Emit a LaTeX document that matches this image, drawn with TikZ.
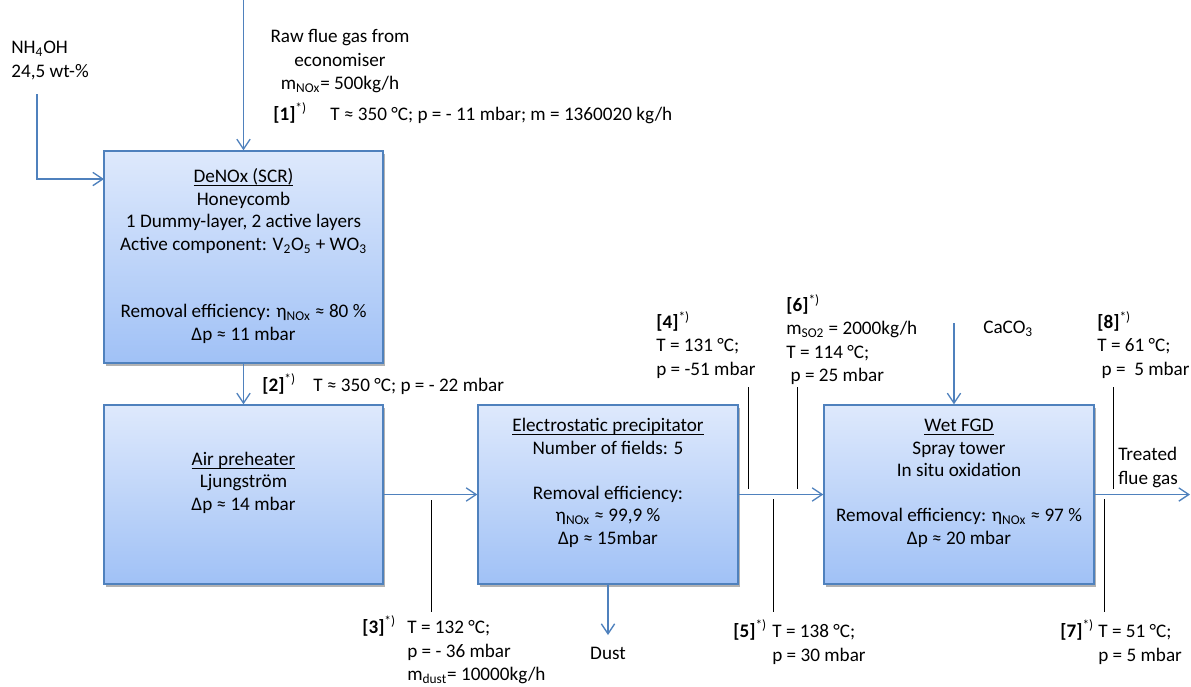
\documentclass[tikz,border=0pt]{standalone}
\usepackage{fontspec}
\setmainfont{Carlito}
\usetikzlibrary{arrows.meta,shadows,calc}
\definecolor{boxtop}{RGB}{222,233,252}
\definecolor{boxbot}{RGB}{160,193,246}
\definecolor{flow}{RGB}{79,129,189}
\newcommand{\tag}[1]{\textbf{[#1]}\textsuperscript{*)}}
\newsavebox\ulbox
\newcommand{\myul}[1]{\sbox\ulbox{#1}\rlap{\rule[-2.1pt]{\wd\ulbox}{0.75pt}}\usebox\ulbox}
\begin{document}
\begin{tikzpicture}[x=0.6pt,y=-0.6pt, font=\fontsize{11.5}{14}\selectfont,
  unit/.style={draw=flow, line width=0.8pt, top color=boxtop, bottom color=boxbot,
    align=center, inner sep=0pt, font=\fontsize{11.5}{13.5}\selectfont,
    drop shadow={shadow xshift=1.2pt,shadow yshift=-1.5pt,opacity=0.3,fill=black}},
  flowline/.style={draw=flow, line width=0.8pt, -{Straight Barb[length=6pt,width=8pt]}},
  ptr/.style={draw=black, line width=0.6pt},
  lbl/.style={inner sep=0pt, anchor=base west},
  blk/.style={inner sep=0pt, anchor=north west, align=left},
]
\useasboundingbox (0,0) rectangle (1191,686);

% process units
\node[unit, minimum width=167.4pt, minimum height=127.2pt] (denox) at (243.5,257)
  {\strut\myul{DeNOx (SCR)}\\ Honeycomb\\ 1 Dummy-layer, 2 active layers\\
   Active component: V\textsubscript{2}O\textsubscript{5} + WO\textsubscript{3}\\ \strut\\ \strut\\
   Removal efficiency: η\textsubscript{NOx} ≈ 80 \%\\ Δp ≈ 11 mbar\strut};
\node[unit, minimum width=167.4pt, minimum height=107.4pt] (air) at (243.5,494.5)
  {\strut\myul{Air preheater}\\ Ljungström\\ Δp ≈ 14 mbar\\ \strut};
\node[unit, minimum width=156pt, minimum height=107.4pt] (esp) at (608,494.5)
  {\strut\myul{Electrostatic precipitator}\\ Number of fields: 5\\ \strut\\ Removal efficiency:\\
   η\textsubscript{NOx} ≈ 99,9 \%\\ Δp ≈ 15mbar\\ \strut};
\node[unit, minimum width=162pt, minimum height=107.4pt] (fgd) at (959,494.5)
  {\strut\myul{Wet FGD}\\ Spray tower\\ In situ oxidation\\ \strut\\
   Removal efficiency: η\textsubscript{NOx} ≈ 97 \%\\ Δp ≈ 20 mbar\\ \strut};

% flows
\coordinate (rawsrc) at (243.5,0);
\draw[flowline] (rawsrc) -- (denox.north);
\coordinate (nhsrc) at (37,94);
\coordinate (nhin) at (104,179);
\draw[flowline] (nhsrc) |- (nhin);
\draw[flowline] (denox.south) -- (air.north);
\draw[flowline] (air.east) -- (esp.west);
\draw[flowline] (esp.east) -- (fgd.west);
\coordinate (outend) at (1190,494.5);
\draw[flowline] (fgd.east) -- (outend);
\coordinate (dustend) at (608,635);
\draw[flowline] (esp.south) -- (dustend);
\coordinate (cacosrc) at (954,323);
\draw[flowline] (cacosrc) -- (cacosrc |- fgd.north);

% pointer lines
\coordinate (p3a) at (431,500); \coordinate (p3b) at (431,612);
\coordinate (p4a) at (748,387); \coordinate (p4b) at (748,489);
\coordinate (p6a) at (797,387); \coordinate (p6b) at (797,489);
\coordinate (p5a) at (773,499); \coordinate (p5b) at (773,612);
\coordinate (p8a) at (1113,387); \coordinate (p8b) at (1113,489);
\coordinate (p7a) at (1104,499); \coordinate (p7b) at (1104,612);
\draw[ptr] (p3a) -- (p3b);
\draw[ptr] (p4a) -- (p4b);
\draw[ptr] (p6a) -- (p6b);
\draw[ptr] (p5a) -- (p5b);
\draw[ptr] (p8a) -- (p8b);
\draw[ptr] (p7a) -- (p7b);

% labels
\node[blk] (nhlbl) at (11,37) {\strut NH\textsubscript{4}OH\\ 24,5 wt-\%\strut};
\node[blk, anchor=north, align=center] (rawlbl) at (340,26)
  {\strut Raw flue gas from\\ economiser\\ m\textsubscript{NOx}= 500kg/h\strut};
\node[lbl] (t1) at (273,120) {\tag{1}};
\node[lbl] (s1) at (330,120) {T ≈ 350 °C; p = - 11 mbar; m = 1360020 kg/h};
\node[lbl] (t2) at (262,391) {\tag{2}};
\node[lbl] (s2) at (313,391) {T ≈ 350 °C; p = - 22 mbar};
\node[lbl] (t3) at (362,633) {\tag{3}};
\node[blk] (s3) at (407,617) {\strut T = 132 °C;\\ p = - 36 mbar\\ m\textsubscript{dust}= 10000kg/h\strut};
\node[lbl, anchor=base] (dustlbl) at (608,659) {Dust};
\node[blk] (s4) at (656,311) {\strut\tag{4}\\ T = 131 °C;\\ p = -51 mbar\strut};
\node[blk] (s6) at (786,294) {\strut\tag{6}\\ m\textsubscript{SO2} = 2000kg/h\\ T = 114 °C;\\ \ p = 25 mbar\strut};
\node[lbl] (cacolbl) at (983,333) {CaCO\textsubscript{3}};
\node[blk] (s8) at (1097,311) {\strut\tag{8}\\ T = 61 °C;\\ \ p = \ 5 mbar\strut};
\node[blk] (outlbl) at (1118,444) {\strut Treated\\ flue gas\strut};
\node[lbl] (t5) at (733,637) {\tag{5}};
\node[blk] (s5) at (772,621) {\strut T = 138 °C;\\ p = 30 mbar\strut};
\node[lbl] (t7) at (1060,637) {\tag{7}};
\node[blk] (s7) at (1098,621) {\strut T = 51 °C;\\ p = 5 mbar\strut};
\end{tikzpicture}
\end{document}
